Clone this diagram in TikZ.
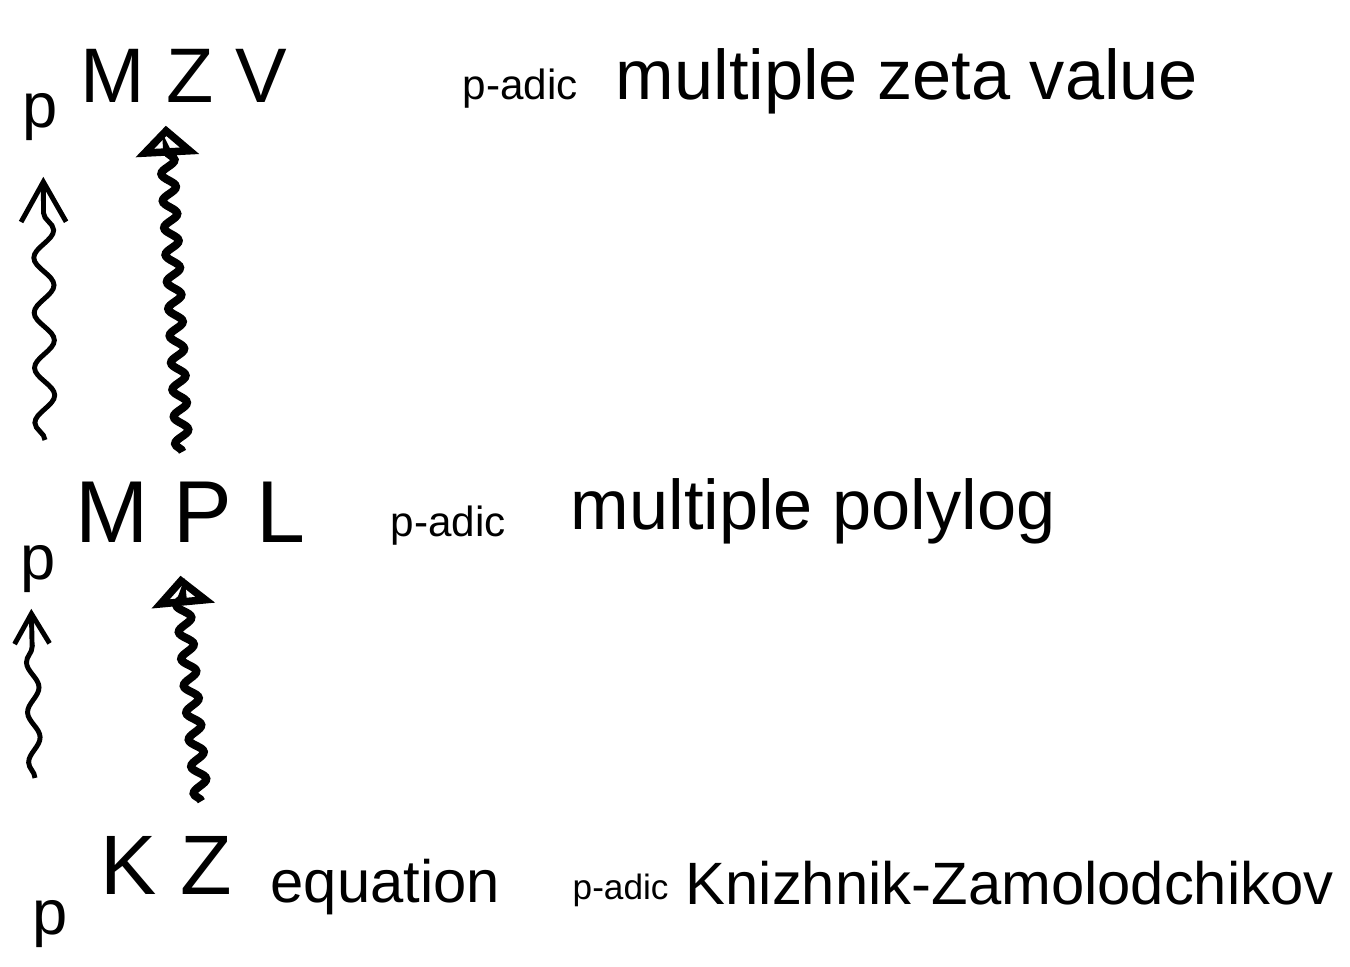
\documentclass[tikz,border=0pt]{standalone}
\usepackage{fontspec}
\setmainfont{Liberation Sans}
\usetikzlibrary{arrows.meta,decorations.pathmorphing}

\begin{document}
\begin{tikzpicture}[x=0.01cm,y=-0.01cm,
  txt/.style={inner sep=0pt,anchor=base west},
  padic/.style={txt,font=\fontsize{12}{14}\selectfont},
  plabel/.style={txt,font=\fontsize{18}{21}\selectfont},
  bigsnake/.style={line width=2.3pt,-{Triangle[open,length=3mm,width=6.2mm]},
    decorate,decoration={snake,amplitude=0.7mm,segment length=2.7mm,post length=2mm}},
  thinsnake/.style={line width=1.4pt,-{Straight Barb[length=4mm,width=4.5mm]},
    decorate,decoration={snake,amplitude=1mm,segment length=5.5mm,post length=3mm}}]
\useasboundingbox (0,0) rectangle (1350,967);

% Top row
\node[txt,font=\fontsize{22}{26}\selectfont] (MZV) at (80,103) {M Z V};
\node[padic] (padicA) at (462,100) {p-adic};
\node[txt,font=\fontsize{20}{24}\selectfont] (mzvname) at (615,100) {multiple zeta value};
\node[plabel] (pA) at (22,128) {p};

% Middle row
\node[txt,font=\fontsize{25}{30}\selectfont] (MPL) at (75,543) {M P L};
\node[padic] (padicB) at (390,537) {p-adic};
\node[txt,font=\fontsize{20}{24}\selectfont] (mplname) at (570,530) {multiple polylog};
\node[plabel] (pB) at (20,580) {p};

% Bottom row
\node[txt,font=\fontsize{24}{28}\selectfont] (KZ) at (100,895) {K Z};
\node[txt,font=\fontsize{17}{20}\selectfont] (eq) at (270,903) {equation};
\node[padic,font=\fontsize{10}{12}\selectfont] (padicC) at (572,900) {p-adic};
\node[txt,font=\fontsize{17}{20}\selectfont] (kzname) at (685,905) {Knizhnik-Zamolodchikov};
\node[plabel] (pC) at (32,935) {p};

% Wavy arrows
\draw[bigsnake] ([shift={(35,-35)}]KZ.north) -- ([shift={(-10,32)}]MPL.south);
\draw[bigsnake] ([shift={(-8,-30)}]MPL.north) -- ([shift={(-18,22)}]MZV.south);

% p-adic lifts
\coordinate (lowA) at (45,440);
\coordinate (lowB) at (35,778);
\draw[thinsnake] (lowA) -- ([shift={(3,35)}]pA.south);
\draw[thinsnake,-{Straight Barb[length=3mm,width=3.5mm]},decoration={amplitude=0.6mm,segment length=5mm}]
  (lowB) -- ([shift={(-7,15)}]pB.south);
\end{tikzpicture}
\end{document}
